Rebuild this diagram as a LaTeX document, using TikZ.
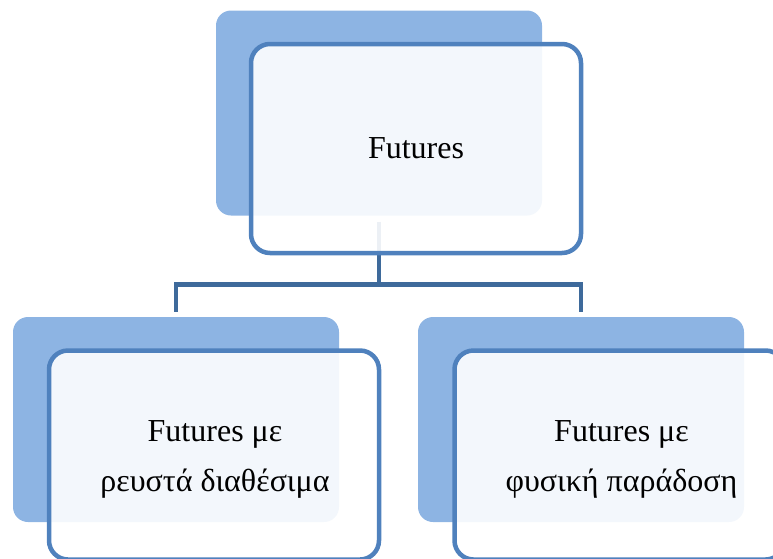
\documentclass[tikz,border=0pt]{standalone}
\usepackage{fontspec}
\setmainfont{Liberation Serif}
\usetikzlibrary{calc}
\definecolor{backblue}{RGB}{141,180,227}
\definecolor{edgeblue}{RGB}{79,129,189}
\definecolor{linkblue}{RGB}{62,106,155}
\tikzset{
  backbox/.style={rectangle, rounded corners=15pt, fill=backblue, draw=none,
    minimum width=326pt, minimum height=205pt, inner sep=0pt},
  frontbox/.style={rectangle, rounded corners=19pt, draw=edgeblue, line width=4.5pt,
    fill=white, fill opacity=0.9, text opacity=1, text=black,
    minimum width=330pt, minimum height=209pt, inner sep=0pt, align=center,
    font=\fontsize{32}{50}\selectfont},
  boxtext/.style={inner sep=0pt, align=center, text=black,
    font=\fontsize{32}{50}\selectfont},
  link/.style={draw=linkblue, line width=4.5pt, line join=miter, line cap=butt}
}
\begin{document}
\begin{tikzpicture}[x=1pt, y=-1pt]
  \useasboundingbox (0,0) rectangle (773,558);
  \clip (0,0) rectangle (773,558);
  % shaded back panels
  \node[backbox] (backTop) at (379,113) {};
  \node[backbox] (backL) at (176,419.5) {};
  \node[backbox] (backR) at (581,419.5) {};
  % tree connectors
  \coordinate (topStart) at ($(backTop.south)+(0,6)$);
  \coordinate (leftEnd) at ($(backL.north)+(0,-5)$);
  \coordinate (rightEnd) at ($(backR.north)+(0,-5)$);
  \coordinate (junction) at ($(topStart)+(0,63)$);
  \draw[link] (topStart) -- (junction);
  \draw[link] (leftEnd) |- (junction) -| (rightEnd);
  % outlined front boxes with labels
  \node[frontbox] (top) at (416,148.5) {Futures};
  \node[frontbox] (left) at (214,455) {};
  \node[frontbox] (right) at (619.5,455) {};
  \node[boxtext] (leftText) at ($(left.center)+(1,4)$) {Futures με\\ρευστά διαθέσιμα};
  \node[boxtext] (rightText) at ($(right.center)+(2,4)$) {Futures με\\φυσική παράδοση};
\end{tikzpicture}
\end{document}
